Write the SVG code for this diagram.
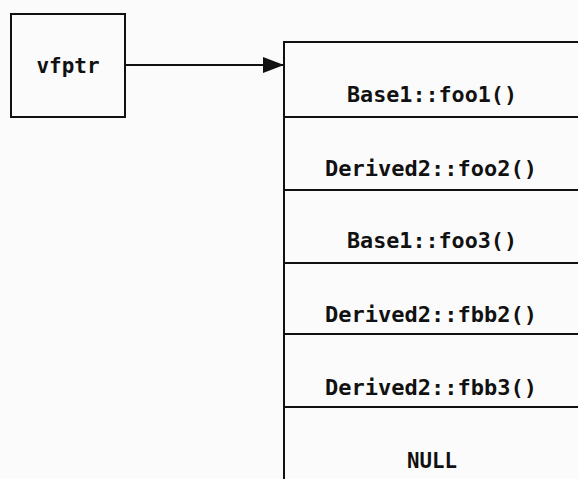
<svg xmlns="http://www.w3.org/2000/svg" width="578" height="479" viewBox="0 0 578 479">
<style>
.box{fill:none;stroke:#111;stroke-width:2}
.t{font-family:"DejaVu Sans Mono","Liberation Mono",monospace;font-weight:bold;font-size:22px;fill:#111;text-anchor:middle}
</style>
<defs>
<marker id="ah" markerWidth="22" markerHeight="16" refX="21" refY="8" orient="auto" markerUnits="userSpaceOnUse">
<path d="M0,0 L21,8 L0,16 Z" fill="#111"/>
</marker>
</defs>
<rect width="578" height="479" fill="#fbfbfb"/>
<g id="vfptr">
<rect class="box" x="11" y="14" width="114" height="103"/>
<text class="t" x="68" y="73" font-size="21" textLength="63" lengthAdjust="spacingAndGlyphs">vfptr</text>
</g>
<g id="connectors">
<line x1="125" y1="65" x2="284" y2="65" stroke="#111" stroke-width="2" marker-end="url(#ah)"/>
</g>
<g id="vtable">
<rect class="box" x="284" y="42" width="320" height="460"/>
<line class="box" x1="284" y1="117" x2="578" y2="117"/>
<line class="box" x1="284" y1="190" x2="578" y2="190"/>
<line class="box" x1="284" y1="263" x2="578" y2="263"/>
<line class="box" x1="284" y1="334" x2="578" y2="334"/>
<line class="box" x1="284" y1="407" x2="578" y2="407"/>
</g>
<g id="row1"><text class="t" x="432" y="102" textLength="170" lengthAdjust="spacingAndGlyphs">Base1::foo1()</text></g>
<g id="row2"><text class="t" x="431" y="176" textLength="212" lengthAdjust="spacingAndGlyphs">Derived2::foo2()</text></g>
<g id="row3"><text class="t" x="432" y="248" textLength="170" lengthAdjust="spacingAndGlyphs">Base1::foo3()</text></g>
<g id="row4"><text class="t" x="431" y="322" textLength="212" lengthAdjust="spacingAndGlyphs">Derived2::fbb2()</text></g>
<g id="row5"><text class="t" x="431" y="395" textLength="212" lengthAdjust="spacingAndGlyphs">Derived2::fbb3()</text></g>
<g id="row6"><text class="t" x="432" y="468" textLength="50" lengthAdjust="spacingAndGlyphs">NULL</text></g>
</svg>
